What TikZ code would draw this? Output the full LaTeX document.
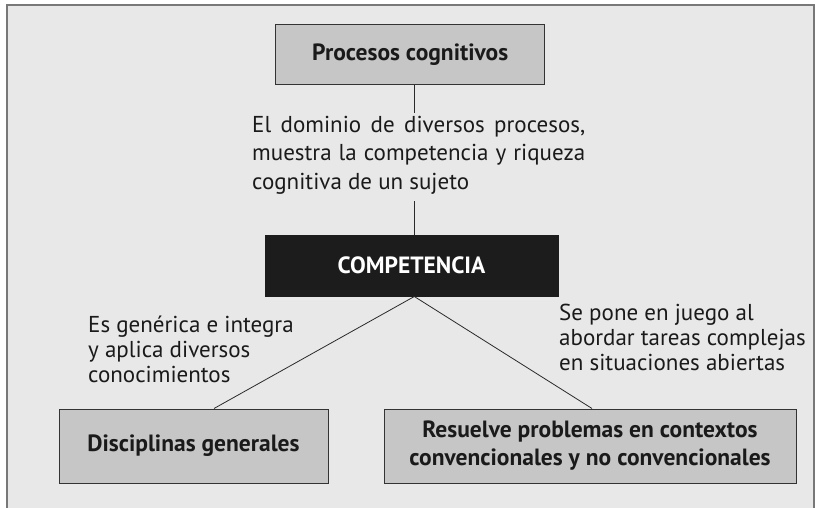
\documentclass[tikz,border=0pt]{standalone}
\usepackage{fontspec}
\setmainfont{PT Sans}
\definecolor{bg}{HTML}{E8E8E8}
\definecolor{boxfill}{HTML}{C6C6C6}
\definecolor{boxline}{HTML}{333333}
\definecolor{txt}{HTML}{1A1A1A}
\definecolor{frameclr}{HTML}{787878}
\definecolor{lineclr}{HTML}{2A2A2A}
\definecolor{blackbox}{HTML}{1C1C1C}
\begin{document}
\begin{tikzpicture}[x=1pt,y=-1pt,
  lbl/.style={font=\fontsize{23}{25}\selectfont, text=txt, inner sep=0pt, align=left, anchor=north west},
  gbox/.style={draw=boxline, line width=1pt, fill=boxfill, font=\fontsize{23.5}{28}\selectfont\bfseries, text=txt, align=center, inner sep=0pt},
  conn/.style={draw=lineclr, line width=0.8pt}]
\useasboundingbox (0,0) rectangle (816,508);
\fill[bg] (7,5) rectangle (814,512);
\draw[frameclr, line width=1.6pt] (7,512) -- (7,5) -- (814,5) -- (814,512);

\node[gbox, minimum width=269pt, minimum height=60pt] (proc) at (410.2,54.3) {Procesos cognitivos};
\node[gbox, draw=blackbox, fill=blackbox, text=white, minimum width=293pt, minimum height=61pt] (comp) at (411.5,265.5) {COMPETENCIA};
\node[gbox, minimum width=269pt, minimum height=74pt] (disc) at (193.5,446) {Disciplinas generales};
\node[gbox, minimum width=412pt, minimum height=74pt] (res) at (590,446) {Resuelve problemas en contextos\\convencionales y no convencionales};

\node[lbl, font=\fontsize{23}{28.5}\selectfont] (ltop) at (252,114) {\rule{0pt}{18pt}\makebox[333pt][s]{El dominio de diversos procesos,}\\\makebox[333pt][s]{muestra la competencia y riqueza}\\cognitiva de un sujeto};
\node[lbl] (lleft) at (88,314) {\rule{0pt}{18pt}Es genérica e integra\\y aplica diversos\\conocimientos};
\node[lbl] (lright) at (559,302) {\rule{0pt}{18pt}Se pone en juego al\\abordar tareas complejas\\en situaciones abiertas};

\coordinate (ax) at (414.3,0);
\coordinate (t1) at (414.3,113);
\coordinate (t2) at (414.3,201);
\coordinate (dl) at (214,0);
\coordinate (dr) at (592,0);
\draw[conn] (proc.south -| ax) -- (t1);
\draw[conn] (t2) -- (comp.north -| ax);
\draw[conn] (comp.south -| ax) -- (disc.north -| dl);
\draw[conn] (comp.south -| ax) -- (res.north -| dr);
\end{tikzpicture}
\end{document}
